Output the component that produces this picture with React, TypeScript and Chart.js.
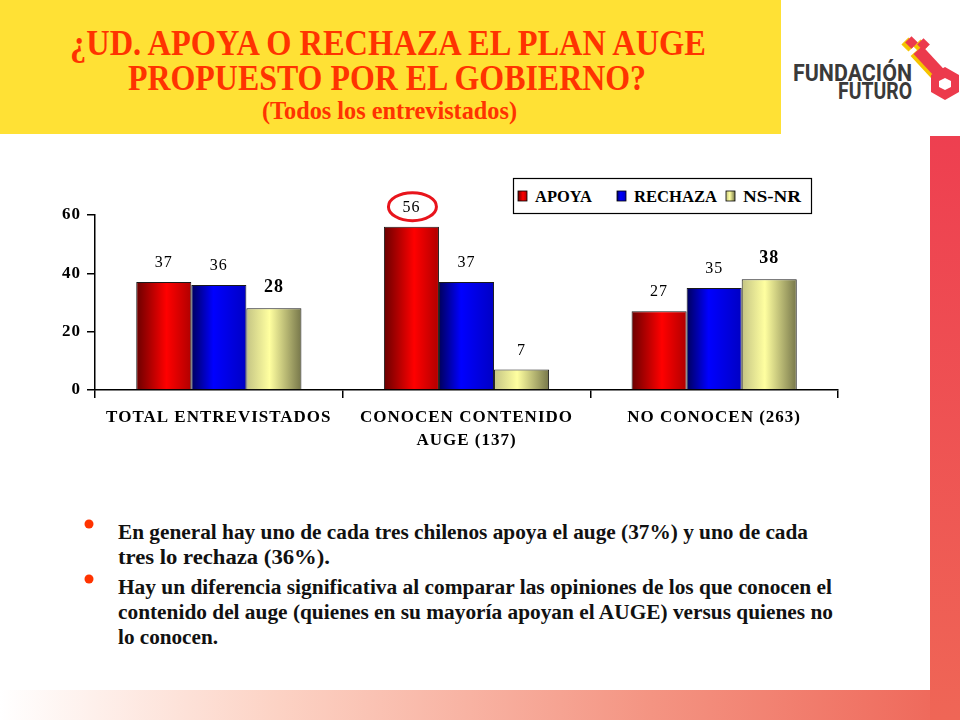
import React, { useEffect, useRef } from "react";
import { Chart, registerables } from "chart.js";
Chart.register(...registerables);

// ---------- data ----------
const categories: string[][] = [
  ["TOTAL ENTREVISTADOS"],
  ["CONOCEN CONTENIDO", "AUGE (137)"],
  ["NO CONOCEN (263)"],
];
const seriesNames = ["APOYA", "RECHAZA", "NS-NR"];
const apoya = [37, 56, 27];
const rechaza = [36, 37, 35];
const nsnr = [28, 7, 38];
const yTicks = [0, 20, 40, 60];
const boldLabels = [
  [false, false, false],
  [false, false, false],
  [true, false, true],
];
const highlight = { series: 0, index: 1 };

const titleLines = ["¿UD. APOYA O RECHAZA EL PLAN AUGE", "PROPUESTO POR EL GOBIERNO?"];
const subtitle = "(Todos los entrevistados)";
const bulletLines = [
  ["En general hay uno de cada tres chilenos apoya el auge (37%) y uno de cada", "tres lo rechaza (36%)."],
  [
    "Hay un diferencia significativa al comparar las opiniones de los que conocen el",
    "contenido del auge (quienes en su mayoría apoyan el AUGE) versus quienes no",
    "lo conocen.",
  ],
];

// ---------- styles ----------
const gradientStops = [
  ["#6a0000", "#ff0000", "#b00000"],
  ["#00005c", "#0000ff", "#0000c4"],
  ["#c4c484", "#ffffa0", "#76764a"],
];
const stopPositions = [
  [0, 0.55, 1],
  [0, 0.4, 1],
  [0, 0.42, 1],
];
const SERIF = '"Liberation Serif", "Times New Roman", serif';

function barFill(si: number) {
  return (c: any) => {
    const el = c.element;
    const stops = gradientStops[si];
    if (!el || typeof el.x !== "number" || !isFinite(el.x) || !el.width) return stops[1];
    const g = c.chart.ctx.createLinearGradient(el.x - el.width / 2, 0, el.x + el.width / 2, 0);
    stops.forEach((col, k) => g.addColorStop(stopPositions[si][k], col));
    return g;
  };
}

const labelPlugin = {
  id: "valueLabels",
  beforeDraw(chart: any) {
    (chart.ctx as any).letterSpacing = "1px";
  },
  afterDatasetsDraw(chart: any) {
    const ctx = chart.ctx;
    ctx.save();
    ctx.textAlign = "center";
    ctx.textBaseline = "middle";
    ctx.fillStyle = "#000";
    chart.data.datasets.forEach((ds: any, di: number) => {
      const meta = chart.getDatasetMeta(di);
      meta.data.forEach((el: any, i: number) => {
        const bold = boldLabels[di][i];
        ctx.font = `${bold ? "bold 18px" : "16px"} ${SERIF}`;
        const ly = el.y - (bold ? 21 : 19);
        ctx.fillText(String(ds.data[i]), el.x, ly);
        if (di === highlight.series && i === highlight.index) {
          ctx.save();
          ctx.beginPath();
          ctx.ellipse(el.x + 1, ly - 1, 24, 14, 0, 0, Math.PI * 2);
          ctx.strokeStyle = "#e8141c";
          ctx.lineWidth = 3;
          ctx.stroke();
          ctx.restore();
        }
      });
    });
    ctx.restore();
  },
  afterDraw(chart: any) {
    (chart.ctx as any).letterSpacing = "0px";
  },
};

function BarChart() {
  const ref = useRef<HTMLCanvasElement>(null);
  useEffect(() => {
    if (!ref.current) return;
    const series = [apoya, rechaza, nsnr];
    const chart = new Chart(ref.current, {
      type: "bar",
      data: {
        labels: categories as any,
        datasets: series.map((d, i) => ({
          label: seriesNames[i],
          data: d,
          backgroundColor: barFill(i),
          borderColor: "#1a1a1a",
          borderWidth: 1,
          categoryPercentage: 0.667,
          barPercentage: 1,
        })),
      },
      options: {
        animation: false,
        responsive: false,
        events: [],
        layout: { padding: { top: 55, right: 122, left: 0, bottom: 0 } },
        plugins: { legend: { display: false }, tooltip: { enabled: false } },
        scales: {
          x: {
            grid: { offset: true, drawOnChartArea: false, drawTicks: true, tickLength: 8, color: "#000", lineWidth: 1.5 },
            border: { display: true, color: "#000", width: 1.5 },
            ticks: {
              color: "#000",
              font: { family: SERIF, size: 17, weight: "bold", lineHeight: 1.35 },
              padding: 8,
              maxRotation: 0,
              autoSkip: false,
            },
            afterFit: (s: any) => {
              s.height = 80;
            },
          },
          y: {
            min: 0,
            max: 60,
            afterBuildTicks: (s: any) => {
              s.ticks = yTicks.map((v) => ({ value: v }));
            },
            grid: { drawOnChartArea: false, drawTicks: true, tickLength: 8, color: "#000", lineWidth: 1.5 },
            border: { display: true, color: "#000", width: 1.5 },
            ticks: { color: "#000", font: { family: SERIF, size: 17, weight: "bold" }, padding: 6 },
            afterFit: (s: any) => {
              s.width = 95;
            },
          },
        },
      } as any,
      plugins: [labelPlugin],
    });
    chart.update();
    return () => chart.destroy();
  }, []);
  return (
    <canvas
      ref={ref}
      width={960}
      height={310}
      style={{ position: "absolute", left: 0, top: 160, width: 960, height: 310 }}
    />
  );
}

function Backdrop() {
  const legendX = [518, 617, 726];
  const legendTextW = [57, 83, 58];
  const bodyBaselines = [[539, 564], [594, 619, 644]];
  const bodyWidths = [[690, 212], [714, 715, 100]];
  const bulletY = [524, 579];
  return (
    <svg width={960} height={720} style={{ position: "absolute", left: 0, top: 0 }}>
      <defs>
        <linearGradient id="stripeV" x1="0" y1="0" x2="0" y2="1">
          <stop offset="0" stopColor="#ee3f50" />
          <stop offset="1" stopColor="#ef6656" />
        </linearGradient>
        <linearGradient id="stripeH" x1="0" y1="0" x2="1" y2="0">
          <stop offset="0" stopColor="#ffffff" />
          <stop offset="0.3" stopColor="#fcd2c4" />
          <stop offset="0.7" stopColor="#f49482" />
          <stop offset="1" stopColor="#ef6a5c" />
        </linearGradient>
        {gradientStops.map((stops, si) => (
          <linearGradient key={si} id={`lg${si}`} x1="0" y1="0" x2="1" y2="0">
            {stops.map((c, k) => (
              <stop key={k} offset={stopPositions[si][k]} stopColor={c} />
            ))}
          </linearGradient>
        ))}
      </defs>
      <rect x={0} y={0} width={960} height={720} fill="#ffffff" />
      <rect x={0} y={0} width={781} height={134} fill="#ffe135" />
      <rect x={930} y={136} width={30} height={584} fill="url(#stripeV)" />
      <rect x={0} y={690} width={930} height={30} fill="url(#stripeH)" />

      <g fill="#ff3300" fontFamily={SERIF} fontWeight="bold">
        <text x={70} y={55} fontSize={35} textLength={636} lengthAdjust="spacingAndGlyphs">
          {titleLines[0]}
        </text>
        <text x={128} y={90} fontSize={35} textLength={518} lengthAdjust="spacingAndGlyphs">
          {titleLines[1]}
        </text>
        <text x={262} y={119} fontSize={25} textLength={255} lengthAdjust="spacingAndGlyphs">
          {subtitle}
        </text>
      </g>

      {/* logo */}
      <g fill="#3a3a3a" fontFamily="Roboto, 'Open Sans', sans-serif" fontWeight="bold">
        <text x={793} y={81} fontSize={23} textLength={119} lengthAdjust="spacingAndGlyphs">
          FUNDACIÓN
        </text>
        <text x={838} y={99} fontSize={23} textLength={74} lengthAdjust="spacingAndGlyphs">
          FUTURO
        </text>
      </g>
      <g transform="translate(-3,2)" fill="#f5c400" stroke="#f5c400">
        <line x1={918} y1={50} x2={943} y2={77} strokeWidth={12} />
        <rect x={907} y={38} width={9} height={9} transform="rotate(45 911.5 42.5)" />
        <rect x={919} y={40} width={9} height={9} transform="rotate(45 923.5 44.5)" />
      </g>
      <g fill="#ec3a4c" stroke="#ec3a4c">
        <line x1={918} y1={50} x2={943} y2={77} strokeWidth={12} />
        <rect x={907} y={38} width={9} height={9} transform="rotate(45 911.5 42.5)" stroke="none" />
        <rect x={919} y={40} width={9} height={9} transform="rotate(45 923.5 44.5)" stroke="none" />
        <polygon stroke="none" points="945,67 959,75 959,92 945,100 931,92 931,75" />
        <polygon stroke="none" fill="#ffffff" points="945,78 951,81 951,87 945,90 939,87 939,81" />
      </g>

      {/* legend */}
      <rect x={513.5} y={178.5} width={298} height={35} fill="#ffffff" stroke="#000" strokeWidth={1.2} />
      {seriesNames.map((name, i) => (
        <g key={name}>
          <rect x={legendX[i]} y={191} width={9} height={10} fill={`url(#lg${i})`} stroke="#000" strokeWidth={0.8} />
          <text
            x={legendX[i] + 17}
            y={202}
            fontFamily={SERIF}
            fontWeight="bold"
            fontSize={17}
            textLength={legendTextW[i]}
            lengthAdjust="spacingAndGlyphs"
          >
            {name}
          </text>
        </g>
      ))}

      {/* bullet text */}
      {bulletLines.map((lines, bi) => (
        <g key={bi}>
          <circle cx={89} cy={bulletY[bi]} r={4.5} fill="#ff3300" />
          {lines.map((ln, li) => (
            <text
              key={li}
              x={118}
              y={bodyBaselines[bi][li]}
              fontFamily={SERIF}
              fontWeight="bold"
              fontSize={20.5}
              fill="#111"
              textLength={bodyWidths[bi][li]}
              lengthAdjust="spacingAndGlyphs"
            >
              {ln}
            </text>
          ))}
        </g>
      ))}
    </svg>
  );
}

export default function App() {
  return (
    <div style={{ position: "absolute", left: 0, top: 0, width: 960, height: 720, background: "#fff", overflow: "hidden" }}>
      <Backdrop />
      <BarChart />
    </div>
  );
}
